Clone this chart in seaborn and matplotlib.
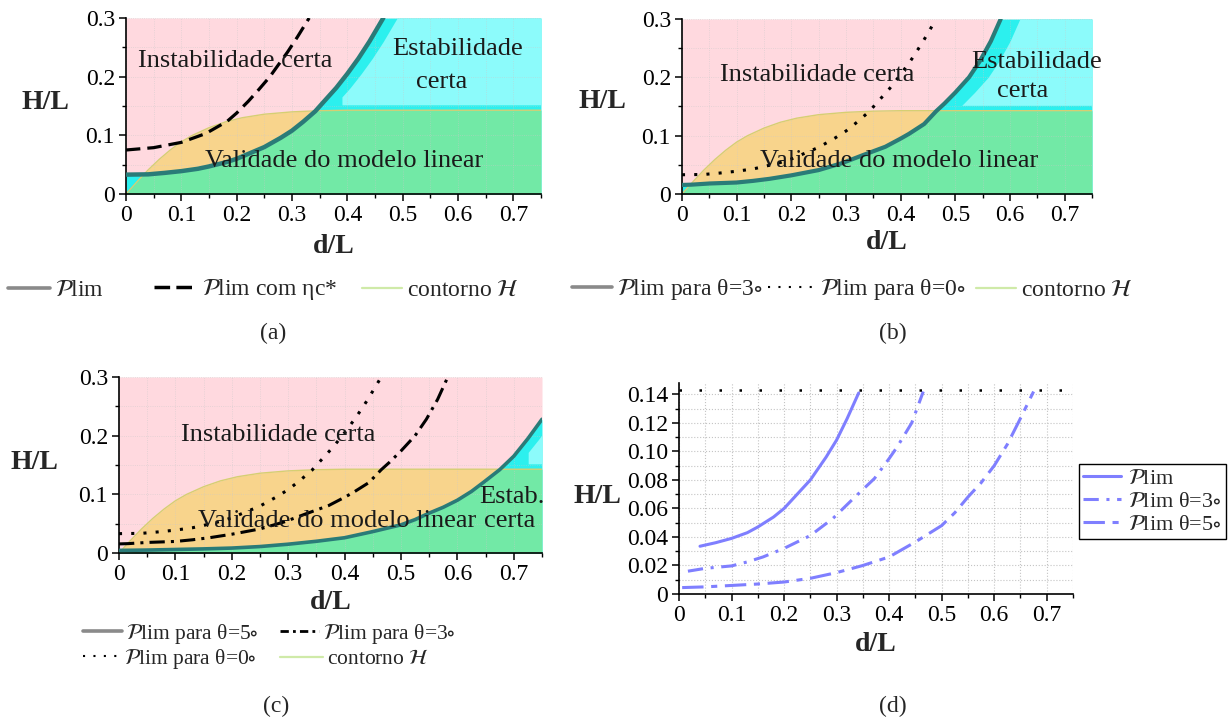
import numpy as np
import pandas as pd
import matplotlib
matplotlib.use("Agg")
import matplotlib.pyplot as plt
from matplotlib.lines import Line2D
from matplotlib.ticker import MultipleLocator, FuncFormatter
import seaborn as sns

# ---------------- data ----------------
# stability limit, theta = 0 deg
d_p0 = [0.0, 0.04, 0.07, 0.10, 0.13, 0.15, 0.18, 0.20, 0.22, 0.25, 0.28, 0.30, 0.32, 0.342,
        0.36, 0.38, 0.40, 0.42, 0.44, 0.465]
h_p0 = [0.033, 0.0335, 0.036, 0.039, 0.043, 0.047, 0.054, 0.060, 0.068, 0.080, 0.096, 0.108, 0.123, 0.141,
        0.160, 0.181, 0.205, 0.231, 0.260, 0.300]

# stability limit, theta = 3 deg
d_p3 = [0.0, 0.017, 0.05, 0.10, 0.13, 0.16, 0.20, 0.25, 0.293, 0.332, 0.372, 0.40, 0.415, 0.443, 0.465,
        0.48, 0.50, 0.525, 0.545, 0.565, 0.583]
h_p3 = [0.0155, 0.016, 0.018, 0.0197, 0.0225, 0.026, 0.032, 0.041, 0.053, 0.067, 0.081, 0.095, 0.103, 0.120, 0.142,
        0.155, 0.174, 0.200, 0.228, 0.262, 0.300]

# stability limit, theta = 5 deg
d_p5 = [0.0, 0.006, 0.05, 0.10, 0.15, 0.20, 0.25, 0.30, 0.35, 0.40, 0.45, 0.50, 0.525, 0.55, 0.575,
        0.60, 0.625, 0.647, 0.675, 0.70, 0.725, 0.75]
h_p5 = [0.0045, 0.0045, 0.005, 0.006, 0.007, 0.0084, 0.011, 0.015, 0.020, 0.026, 0.0365, 0.048, 0.057, 0.068, 0.078,
        0.090, 0.105, 0.121, 0.142, 0.165, 0.195, 0.228]

# stability limit with eta_c*
d_eta = [0.0, 0.05, 0.10, 0.144, 0.183, 0.20, 0.221, 0.24, 0.26, 0.292, 0.31, 0.331]
h_eta = [0.075, 0.079, 0.088, 0.103, 0.124, 0.138, 0.158, 0.178, 0.200, 0.242, 0.268, 0.300]

# contour of the linear-model validity domain
d_h = [0.0, 0.02, 0.04, 0.06, 0.08, 0.10, 0.12, 0.15, 0.18, 0.21, 0.25, 0.30, 0.35, 0.40, 0.75]
h_h = [0.0, 0.021, 0.041, 0.059, 0.075, 0.089, 0.100, 0.113, 0.123, 0.130, 0.136, 0.140, 0.142, 0.1428, 0.1428]

# breaking steepness line in panel (d)
h_break = 0.1428

x_ticks = [0.0, 0.1, 0.2, 0.3, 0.4, 0.5, 0.6, 0.7]
y_ticks_abc = [0.0, 0.1, 0.2, 0.3]
y_ticks_d = [0.0, 0.02, 0.04, 0.06, 0.08, 0.10, 0.12, 0.14]

# first point of each curve shown in panel (d)
d_start = {"p0": 0.04, "p3": 0.017, "p5": 0.006}

# ---------------- style ----------------
sns.set_theme(style="white")
plt.rcParams["font.family"] = ["Liberation Serif", "DejaVu Serif"]
plt.rcParams["mathtext.fontset"] = "stix"

PINK = "#ffd9df"
CYAN = "#2cf0ee"
CYAN_LIGHT = "#8cfbfb"
ORANGE = "#f8d48c"
GREEN = "#72e9a6"
TEAL = "#2a7b78"
CONTOUR = "#d6cf72"
LEG_GRAY = "#8a8a8a"
LEG_GREEN = "#cfeaa8"
BLUE = "#7f7fff"

P = r"$\mathcal{P}$"
DEG = r"$\circ$"
HCAL = r"$\mathcal{H}$"

fig = plt.figure(figsize=(12.32, 7.24), dpi=100)
W, H = 1232.0, 724.0


def add_axes(left, top, right, bottom):
    return fig.add_axes([left / W, 1 - bottom / H, (right - left) / W, (bottom - top) / H])


def style_axes(ax, ylim, ymajor, yminor, yfmt):
    ax.set_xlim(0, 0.75)
    ax.set_ylim(*ylim)
    for s in ("top", "right"):
        ax.spines[s].set_visible(False)
    for s in ("left", "bottom"):
        ax.spines[s].set_color("black")
        ax.spines[s].set_linewidth(1.2)
    ax.xaxis.set_major_locator(MultipleLocator(0.1))
    ax.xaxis.set_minor_locator(MultipleLocator(0.05))
    ax.yaxis.set_major_locator(MultipleLocator(ymajor))
    ax.yaxis.set_minor_locator(MultipleLocator(yminor))
    ax.xaxis.set_major_formatter(FuncFormatter(lambda v, p: "0" if abs(v) < 1e-9 else f"{v:g}"))
    ax.yaxis.set_major_formatter(FuncFormatter(yfmt))
    ax.tick_params(which="major", direction="out", length=5, width=1.1, colors="black",
                   labelsize=17, left=True, bottom=True, pad=3)
    ax.tick_params(which="minor", direction="out", length=3, width=1.0, colors="black",
                   left=True, bottom=True)
    ax.set_xticks(x_ticks)
    ax.set_xlabel("d/L", fontsize=20, fontweight="bold")
    ax.set_ylabel("H/L", fontsize=20, fontweight="bold", rotation=0, va="center", ha="center")


def regions(ax, d_lim, h_lim, light_x0, shift):
    dd = np.linspace(0, 0.75, 1500)
    pp = np.minimum(np.interp(dd, d_lim, h_lim, right=0.3), 0.3)
    ps = np.minimum(np.interp(dd - shift, d_lim, h_lim, left=h_lim[0], right=0.3), 0.3)
    cc = np.interp(dd, d_h, h_h)
    ax.fill_between(dd, pp, 0.3, color=PINK, lw=0, zorder=0.2)
    ax.fill_between(dd, 0, pp, color=CYAN, lw=0, zorder=0.2)
    ax.fill_between(dd, 0.152, ps, where=(dd >= light_x0) & (ps > 0.152), color=CYAN_LIGHT, lw=0, zorder=0.21)
    ax.fill_between(dd, pp, cc, where=cc > pp, interpolate=True, color=ORANGE, lw=0, zorder=0.22)
    ax.fill_between(dd, 0, np.minimum(pp, cc), color=GREEN, lw=0, zorder=0.22)
    ax.grid(True, which="both", color="#c9c9c9", linestyle=":", linewidth=0.6, alpha=0.6)
    ax.set_axisbelow(True)
    sns.lineplot(x=d_h, y=h_h, ax=ax, color=CONTOUR, lw=1.0, sort=False, estimator=None, zorder=2)


def ylbl(ax, x, y):
    ax.yaxis.set_label_coords(x, y)


def xlbl(ax, y):
    ax.xaxis.set_label_coords(0.5, y)


fmt_abc = lambda v, p: "0" if abs(v) < 1e-9 else f"{v:g}"
fmt_d = lambda v, p: "0" if abs(v) < 1e-9 else f"{v:.2f}"

TXT = dict(fontsize=19, ha="center", va="center", color="#1a1a1a", zorder=5)

# ---------------- panel (a) ----------------
ax_a = add_axes(126, 18, 541, 194)
regions(ax_a, d_p0, h_p0, 0.39, 0.025)
sns.lineplot(x=d_p0, y=h_p0, ax=ax_a, color=TEAL, lw=3.2, sort=False, estimator=None, zorder=3)
sns.lineplot(x=d_eta, y=h_eta, ax=ax_a, color="black", lw=2.3, linestyle=(0, (4.5, 2.2)),
             sort=False, estimator=None, zorder=3)
style_axes(ax_a, (0, 0.3), 0.1, 0.05, fmt_abc)
ax_a.set_yticks(y_ticks_abc)
ylbl(ax_a, -0.195, 0.52)
xlbl(ax_a, -0.225)
ax_a.text(0.198, 0.227, "Instabilidade certa", **TXT)
ax_a.text(0.600, 0.247, "Estabilidade", **TXT)
ax_a.text(0.570, 0.191, "certa", **TXT)
ax_a.text(0.395, 0.057, "Validade do modelo linear", **TXT)

# ---------------- panel (b) ----------------
ax_b = add_axes(682, 19, 1092, 194)
regions(ax_b, d_p3, h_p3, 0.51, 0.035)
sns.lineplot(x=d_p3, y=h_p3, ax=ax_b, color=TEAL, lw=3.0, sort=False, estimator=None, zorder=3)
sns.lineplot(x=d_p0, y=h_p0, ax=ax_b, color="black", lw=2.2, linestyle=(0, (1, 3)),
             sort=False, estimator=None, zorder=3)
style_axes(ax_b, (0, 0.3), 0.1, 0.05, fmt_abc)
ax_b.set_yticks(y_ticks_abc)
ylbl(ax_b, -0.193, 0.53)
xlbl(ax_b, -0.205)
ax_b.text(0.247, 0.204, "Instabilidade certa", **TXT)
ax_b.text(0.649, 0.226, "Estabilidade", **TXT)
ax_b.text(0.623, 0.176, "certa", **TXT)
ax_b.text(0.398, 0.057, "Validade do modelo linear", **TXT)

# ---------------- panel (c) ----------------
ax_c = add_axes(119, 377, 542, 553)
regions(ax_c, d_p5, h_p5, 0.725, 0.02)
sns.lineplot(x=d_p5, y=h_p5, ax=ax_c, color=TEAL, lw=2.6, sort=False, estimator=None, zorder=3)
sns.lineplot(x=d_p3, y=h_p3, ax=ax_c, color="black", lw=2.2, linestyle=(0, (5, 2, 1, 2)),
             sort=False, estimator=None, zorder=3)
sns.lineplot(x=d_p0, y=h_p0, ax=ax_c, color="black", lw=2.2, linestyle=(0, (1, 3)),
             sort=False, estimator=None, zorder=3)
style_axes(ax_c, (0, 0.3), 0.1, 0.05, fmt_abc)
ax_c.set_yticks(y_ticks_abc)
ylbl(ax_c, -0.199, 0.517)
xlbl(ax_c, -0.21)
ax_c.text(0.283, 0.201, "Instabilidade certa", **TXT)
ax_c.text(0.386, 0.055, "Validade do modelo linear", **TXT)
ax_c.text(0.697, 0.096, "Estab.", **TXT)
ax_c.text(0.692, 0.055, "certa", **TXT)

# ---------------- panel (d) ----------------
ax_d = add_axes(679, 383, 1073, 594)


def d_subset(dv, hv, start):
    dv = np.asarray(dv)
    hv = np.asarray(hv)
    m = (dv >= start - 1e-9) & (hv <= h_break + 1e-9)
    return pd.DataFrame({"d": dv[m], "h": hv[m]})


sub0 = d_subset(d_p0, h_p0, d_start["p0"])
sub3 = d_subset(d_p3, h_p3, d_start["p3"])
sub5 = d_subset(d_p5, h_p5, d_start["p5"])
sns.lineplot(data=sub0, x="d", y="h", ax=ax_d, color=BLUE, lw=2.2, sort=False, estimator=None,
             label=P + "lim")
sns.lineplot(data=sub3, x="d", y="h", ax=ax_d, color=BLUE, lw=2.2, linestyle=(0, (5, 2.5, 1, 2.5)),
             sort=False, estimator=None, label=P + "lim θ=3" + DEG)
sns.lineplot(data=sub5, x="d", y="h", ax=ax_d, color=BLUE, lw=2.2, linestyle=(0, (7, 2.5, 2, 2.5)),
             sort=False, estimator=None, label=P + "lim θ=5" + DEG)
ax_d.axhline(h_break, color="black", lw=1.8, linestyle=(0, (1, 7)), zorder=3)
style_axes(ax_d, (0, 0.148), 0.02, 0.01, fmt_d)
ax_d.set_yticks(y_ticks_d)
ax_d.grid(True, which="both", color="#c4c4c4", linestyle=":", linewidth=0.8)
ax_d.set_axisbelow(True)
ylbl(ax_d, -0.206, 0.46)
xlbl(ax_d, -0.18)
leg_d = ax_d.legend(loc="upper left", bbox_to_anchor=(1079 / W, 1 - 464 / H), bbox_transform=fig.transFigure,
                    frameon=True, fancybox=False, edgecolor="black", framealpha=1, fontsize=16,
                    handlelength=1.7, handletextpad=0.3, labelspacing=0.1, borderpad=0.2, borderaxespad=0)
leg_d.get_frame().set_linewidth(1.0)

# ---------------- legends of (a), (b), (c) ----------------


def leg_item(handle, label, x_px, y_px, hl_px, fs=17):
    px_per_em = fs * 100 / 72.0
    fig.legend([handle], [label], loc="center left", bbox_to_anchor=(x_px / W, 1 - y_px / H),
               frameon=False, fontsize=fs, handlelength=hl_px / px_per_em, handletextpad=0.2,
               borderpad=0, borderaxespad=0)


gray_line = Line2D([], [], color=LEG_GRAY, lw=2.6)
green_line = Line2D([], [], color=LEG_GREEN, lw=1.6)
dot_line = Line2D([], [], color="black", lw=1.5, linestyle=(0, (1, 4)))

leg_item(gray_line, P + "lim", 8, 290, 42)
leg_item(Line2D([], [], color="black", lw=2.5, linestyle=(0, (4.5, 1.8))), P + "lim com ηc*", 154, 290, 43)
leg_item(green_line, "contorno " + HCAL, 362, 290, 40)

leg_item(gray_line, P + "lim para θ=3" + DEG, 572, 290, 40)
leg_item(dot_line, P + "lim para θ=0" + DEG, 768, 290, 47)
leg_item(green_line, "contorno " + HCAL, 976, 290, 40)

leg_item(gray_line, P + "lim para θ=5" + DEG, 83, 634, 39, fs=15.5)
leg_item(Line2D([], [], color="black", lw=2.0, linestyle=(0, (3, 1.5, 1, 1.5))),
         P + "lim para θ=3" + DEG, 280, 634, 39, fs=15.5)
leg_item(dot_line, P + "lim para θ=0" + DEG, 83, 659, 37, fs=15.5)
leg_item(green_line, "contorno " + HCAL, 280, 659, 43, fs=15.5)

# ---------------- sub-captions ----------------
for lab, x, y in (("(a)", 273, 333), ("(b)", 893, 333), ("(c)", 276, 706), ("(d)", 893, 706)):
    fig.text(x / W, 1 - y / H, lab, fontsize=17, ha="center", va="center")

fig.savefig("out.png", dpi=100)
